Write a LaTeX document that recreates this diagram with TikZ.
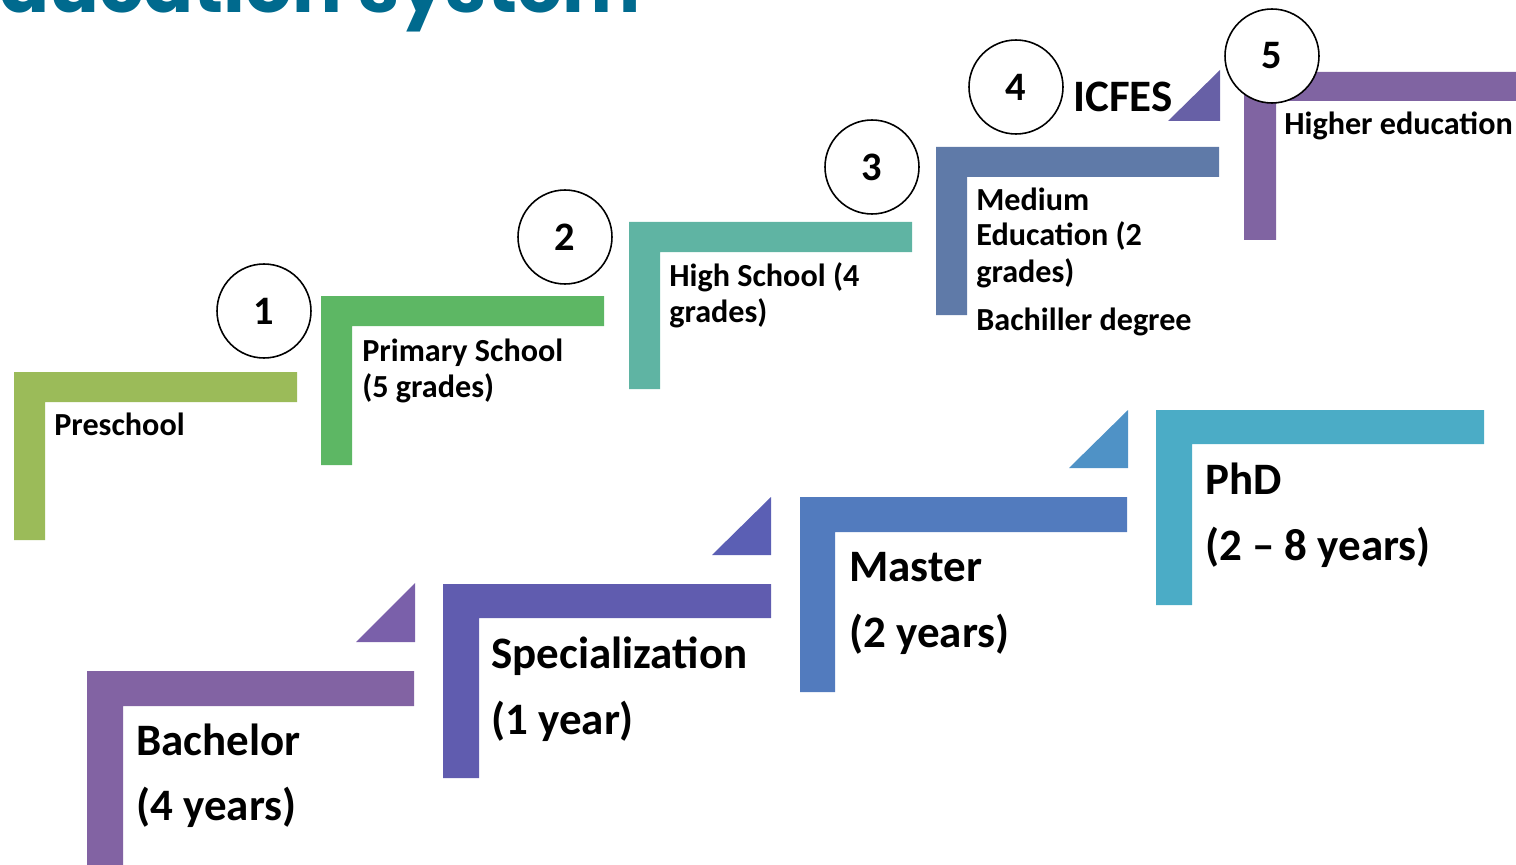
\documentclass[tikz,border=0pt]{standalone}
\usepackage{fontspec}
\setmainfont{Carlito}
\newfontfamily\titlefont{Poppins}
\usetikzlibrary{positioning}
\definecolor{eTitle}{HTML}{006A8E}
\definecolor{ePre}{HTML}{9BBB59}
\definecolor{ePrim}{HTML}{5DB764}
\definecolor{eHigh}{HTML}{5FB4A3}
\definecolor{eMed}{HTML}{5F7AA8}
\definecolor{eIcfes}{HTML}{6760A6}
\definecolor{eUni}{HTML}{8064A2}
\definecolor{eBach}{HTML}{8263A3}
\definecolor{eBachT}{HTML}{7A60AA}
\definecolor{eSpec}{HTML}{605CAF}
\definecolor{eSpecT}{HTML}{5B5FB4}
\definecolor{eMast}{HTML}{527BBE}
\definecolor{eMastT}{HTML}{4F92C6}
\definecolor{ePhd}{HTML}{4BACC6}
\tikzset{lbl/.style={anchor=base west, inner sep=0pt,
  font=\bfseries\fontsize{18.3}{22}\selectfont}}
\tikzset{big/.style={anchor=base west, inner sep=0pt,
  font=\bfseries\fontsize{25.6}{30}\selectfont}}
\tikzset{num/.style={circle, draw, fill=white, line width=0.9pt,
  minimum size=1.88cm, inner sep=0pt, font=\bfseries\fontsize{23}{27}\selectfont}}

\begin{document}
\begin{tikzpicture}[x=0.02cm,y=-0.02cm]
        \useasboundingbox (0,0) rectangle (1516,865);
        \clip (0,0) rectangle (1516,865);
        \node (title) at (641,13) [anchor=base east, inner sep=0pt, text=eTitle,
          font=\titlefont\bfseries\fontsize{42}{50}\selectfont] {Education system};
        %% school steps
        \fill[ePre] (14,540) |- (297,372) -- (297,402) -| (45,540) -- cycle;
        \fill[ePrim] (321,465) |- (604,296) -- (604,326) -| (352,465) -- cycle;
        \fill[eHigh] (629,389) |- (912,222) -- (912,252) -| (660,389) -- cycle;
        \fill[eMed] (936,315) |- (1219,147) -- (1219,177) -| (967,315) -- cycle;
        \fill[eIcfes] (1168,121) -- (1220,121) -- (1220,70) -- cycle;
        \fill[eUni] (1244,240) |- (1520,72) -- (1520,101) -| (1276,240) -- cycle;
        \node (pre) at (54,435) [lbl] {Preschool};
        \node (prim1) at (362,361) [lbl] {Primary School};
        \node (prim2) at (362,397) [lbl] {(5 grades)};
        \node (high1) at (669,286) [lbl] {High School (4};
        \node (high2) at (669,322) [lbl] {grades)};
        \node (med1) at (976,211) [lbl] {Medium};
        \node (med2) at (976,246) [lbl] {Education (2};
        \node (med3) at (976,282) [lbl] {grades)};
        \node (bach) at (976,330) [lbl] {Bachiller degree};
        \node (icfes) at (1073,112) [big] {ICFES};
        \node (uni) at (1284,135) [lbl] {Higher education};
        %% university steps
        \fill[eBach] (87,870) |- (414,671) -- (414,706) -| (123,870) -- cycle;
        \fill[eBachT] (356,642) -- (415,642) -- (415,583) -- cycle;
        \fill[eSpec] (443,778) |- (771,584) -- (771,618) -| (479,778) -- cycle;
        \fill[eSpecT] (712,555) -- (771,555) -- (771,497) -- cycle;
        \fill[eMast] (800,692) |- (1127,497) -- (1127,532) -| (835,692) -- cycle;
        \fill[eMastT] (1069,468) -- (1128,468) -- (1128,410) -- cycle;
        \fill[ePhd] (1156,605) |- (1484,410) -- (1484,444) -| (1192,605) -- cycle;
        \node (ba1) at (136,755) [big] {Bachelor};
        \node (ba2) at (136,820) [big] {(4 years)};
        \node (sp1) at (491,668) [big] {Specialization};
        \node (sp2) at (491,734) [big] {(1 year)};
        \node (ma1) at (849,581) [big] {Master};
        \node (ma2) at (849,647) [big] {(2 years)};
        \node (ph1) at (1205,494) [big] {PhD};
        \node (ph2) at (1205,560) [big] {(2 -- 8 years)};
        %% numbers
        \node (n1) at (264,311) [num] {1};
        \node (n2) at (565,237) [num] {2};
        \node (n3) at (872,167) [num] {3};
        \node (n4) at (1016,87) [num] {4};
        \node (n5) at (1272,56) [num] {5};
\end{tikzpicture}
\end{document}
